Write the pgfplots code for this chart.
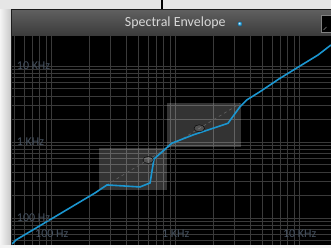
\documentclass[border=0pt]{standalone}
\usepackage{pgfplots}
\pgfplotsset{compat=1.18}
\usepackage{fontspec}
\setmainfont{Carlito}
\definecolor{bgl}{RGB}{230,230,230}
\definecolor{bgw}{RGB}{244,244,244}
\definecolor{bgd}{RGB}{200,200,200}
\definecolor{gridc}{RGB}{58,58,58}
\definecolor{curvec}{RGB}{27,150,208}
\definecolor{lab}{RGB}{70,82,96}
\definecolor{titlec}{RGB}{215,215,215}
\definecolor{hdtop}{RGB}{95,95,95}
\definecolor{hdbot}{RGB}{58,58,58}
\definecolor{edge}{RGB}{28,28,28}
\begin{document}
\begin{tikzpicture}[x=1bp,y=1bp]
\useasboundingbox (0,0) rectangle (331,248);
\fill[bgl] (0,0) rectangle (331,248);
\shade[left color=bgw, right color=bgd] (0,0) rectangle (11,238);
\fill[bgw] (0,0) rectangle (331,3);
\draw[black, line width=2bp] (162,238) -- (162,248);
% header
\shade[top color=hdtop, bottom color=hdbot] (11,212) rectangle (331,238);
\draw[edge, line width=1bp] (11,238.5) -- (331,238.5);
\draw[edge, line width=1bp] (11.5,3) -- (11.5,238.5);
\node[titlec, font=\fontsize{14}{14}\selectfont, inner sep=0pt] at (175.3,225) {Spectral Envelope};
\shade[ball color={rgb,255:red,40;green,170;blue,235}] (240,224) circle (2.6);
% icon
\fill[black] (321,215) rectangle (333,233);
\draw[gray, line width=0.8bp] (321.5,215.5) rectangle (333,232.5);
\draw[gray, line width=0.7bp] (323.5,218) -- (326.5,221);
\begin{axis}[
  at={(12bp,3bp)}, anchor=south west,
  scale only axis, width=319bp, height=209bp,
  xmode=log, ymode=log,
  xmin=47.8, xmax=17900, ymin=44.1, ymax=24800,
  axis background/.style={fill=black},
  axis line style={draw=none},
  grid=both,
  major grid style={gridc, line width=0.9bp},
  minor grid style={gridc, line width=0.9bp},
  xticklabels={}, yticklabels={},
  major tick length=0pt, minor tick length=0pt,
  tick style={draw=none},
  clip=true,
]
\addplot[fill=white, fill opacity=0.2, draw=none] coordinates {(240,234) (845,234) (845,826) (240,826)};
\addplot[fill=white, fill opacity=0.2, draw=none] coordinates {(845,852) (3370,852) (3370,3230) (845,3230)};
\addplot[dash pattern=on 3bp off 3bp, color={rgb,255:red,95;green,95;blue,95}, line width=0.7bp] coordinates {(250,245) (3300,3200)};
\addplot[only marks, mark=*, mark size=3.5bp, mark options={fill=white, fill opacity=0.15, draw=none, xscale=1.5}] coordinates {(600,580) (1550,1514)};
\addplot[curvec, line width=1.6bp] coordinates {(47.8,45.5) (51.5,51.4) (223,213) (279,272) (515,256) (621,289) (668,597) (929,962) (1379,1236) (2642,1762) (3303,2913) (3740,3570) (4790,4590) (6940,6890) (14060,13950) (17900,18900)};
\node[lab, font=\fontsize{12}{12}\selectfont] at (axis cs:100,62) {100 Hz};
\node[lab, font=\fontsize{12}{12}\selectfont] at (axis cs:1000,62) {1 KHz};
\node[lab, font=\fontsize{12}{12}\selectfont] at (axis cs:10000,62) {10 KHz};
\node[lab, font=\fontsize{12}{12}\selectfont, anchor=west, inner sep=0pt] at (axis cs:52.2,10000) {10 KHz};
\node[lab, font=\fontsize{12}{12}\selectfont, anchor=west, inner sep=0pt] at (axis cs:52.2,1000) {1 KHz};
\node[lab, font=\fontsize{12}{12}\selectfont, anchor=west, inner sep=0pt] at (axis cs:52.2,100) {100 Hz};
\end{axis}
\end{tikzpicture}
\end{document}
